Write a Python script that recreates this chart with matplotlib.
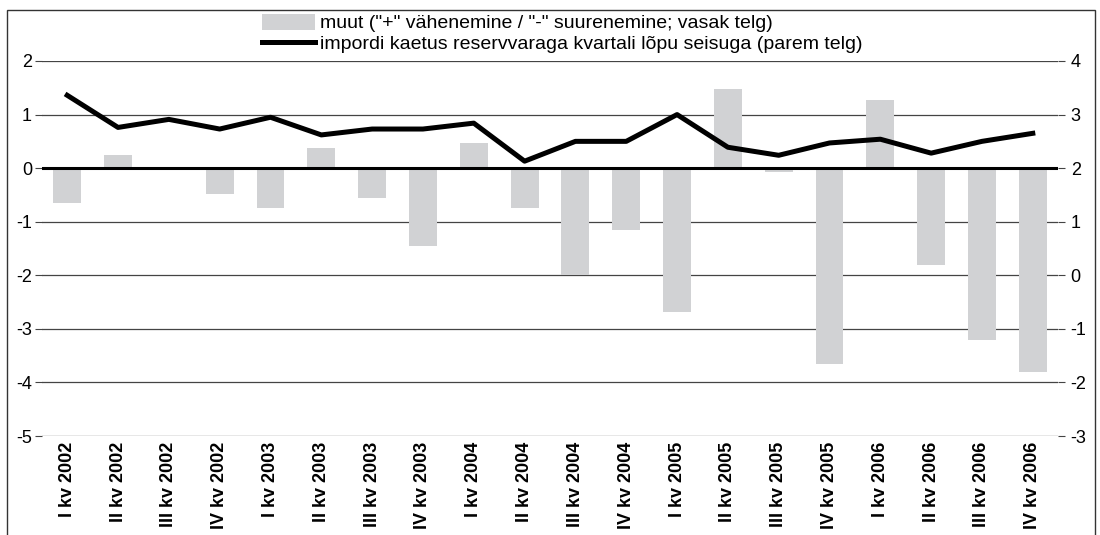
import matplotlib
matplotlib.use("Agg")
import matplotlib.pyplot as plt
from matplotlib.patches import Rectangle, Patch
from matplotlib.lines import Line2D

plt.rcParams['font.family'] = ['Liberation Sans', 'DejaVu Sans']
plt.rcParams['axes.unicode_minus'] = False

# quarters
quarters = ["I kv 2002", "II kv 2002", "III kv 2002", "IV kv 2002",
            "I kv 2003", "II kv 2003", "III kv 2003", "IV kv 2003",
            "I kv 2004", "II kv 2004", "III kv 2004", "IV kv 2004",
            "I kv 2005", "II kv 2005", "III kv 2005", "IV kv 2005",
            "I kv 2006", "II kv 2006", "III kv 2006", "IV kv 2006"]

# bars, left axis
muut = [-0.65, 0.24, -0.03, -0.48, -0.75, 0.38, -0.56, -1.45,
        0.46, -0.75, -2.0, -1.15, -2.68, 1.47, -0.07, -3.65,
        1.28, -1.8, -3.2, -3.8]

# line, right axis
kaetus = [3.36, 2.76, 2.91, 2.73, 2.95, 2.62, 2.73, 2.73,
          2.84, 2.13, 2.5, 2.5, 3.0, 2.39, 2.24, 2.47,
          2.54, 2.28, 2.5, 2.65]

bar_label = 'muut ("+" vähenemine / "-" suurenemine; vasak telg)'
line_label = 'impordi kaetus reservvaraga kvartali lõpu seisuga (parem telg)'

fig = plt.figure(figsize=(11, 5.35), dpi=100)
ax = fig.add_axes([0.038, 0.185, 0.924, 0.701])
ax2 = ax.twinx()

x = range(len(quarters))
ax.bar(x, muut, width=0.55, color="#d1d2d4", zorder=2)
ax.set_ylim(-5, 2)
ax.set_yticks(range(-5, 3))
ax.set_xlim(-0.5, len(quarters) - 0.5)
for v in range(-5, 3):
    if v == 0:
        continue
    ax.axhline(v, color="#444444", lw=0.9, zorder=1)
ax.axhline(0, color="black", lw=2.2, zorder=3)

ax2.plot(x, kaetus, color="black", lw=3.6, zorder=4)
ax2.set_ylim(-3, 4)
ax2.set_yticks(range(-3, 5))

ax.set_xticks(list(x))
ax.set_xticklabels(quarters, rotation=90, fontweight="bold", fontsize=13)
ax.tick_params(axis="x", length=0, pad=4)
ax.tick_params(axis="y", length=5, color="#444444", labelsize=13, pad=2)
ax2.tick_params(axis="y", length=5, color="#444444", labelsize=13, pad=4)

for a in (ax, ax2):
    for s in a.spines.values():
        s.set_visible(False)

handles = [Patch(facecolor="#d1d2d4", edgecolor="none"),
           Line2D([0], [0], color="black", lw=3.6)]
fig.legend(handles, [bar_label, line_label], loc="upper left",
           bbox_to_anchor=(262 / 1100, 1 - 14 / 535), ncol=1, frameon=False,
           fontsize=14, handlelength=2.7, handleheight=0.85,
           labelspacing=0.1, handletextpad=0.3, borderpad=0,
           borderaxespad=0)

# frame around the figure
fig.patches.append(Rectangle((7 / 1100, -0.05), 1088 / 1100, 1.05 - 10 / 535,
                             transform=fig.transFigure, fill=False,
                             edgecolor="#333333", lw=1.0))

fig.savefig("out.png", dpi=100)
